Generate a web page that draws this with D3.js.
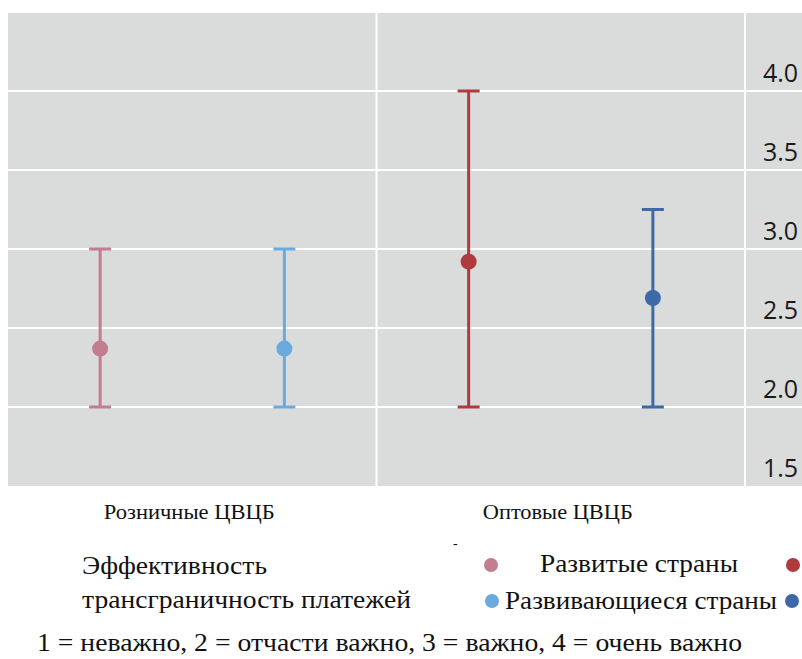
<!DOCTYPE html>
<html>
<head>
<meta charset="utf-8">
<script src="https://cdn.jsdelivr.net/npm/d3@7"></script>
<style>
  body { margin: 0; background: #fff; }
  svg { display: block; }
  .serif { font-family: "Liberation Serif", "Tinos", "Times New Roman", Times, "DejaVu Serif", "Noto Serif", serif; fill: #111; }
</style>
</head>
<body>
<div id="chart"></div>
<script>
// groups on the x axis and the two series inside each group
var groups = ["Розничные ЦВЦБ", "Оптовые ЦВЦБ"];
var series = ["Развитые страны", "Развивающиеся страны"];

// mean, low, high per group, per series
var means = [[2.37, 2.37], [2.92, 2.69]];
var lows  = [[2.0, 2.0], [2.0, 2.0]];
var highs = [[3.0, 3.0], [4.0, 3.25]];

var yTicks = [1.5, 2.0, 2.5, 3.0, 3.5, 4.0];
var colors = [["#c27d8f", "#6aaade"], ["#b03a3e", "#3d69a8"]];

var W = 802, H = 659;
var plot = { left: 8, right: 802, top: 13, bottom: 486, bandEnd: 745 };

var svg = d3.select("#chart").append("svg")
    .attr("width", W)
    .attr("height", H);

var y = d3.scaleLinear().domain([1.5, 4.5]).range([plot.bottom, plot.bottom - 6 * 79]);
var x = d3.scaleBand().domain(groups).range([plot.left, plot.bandEnd]);
var xs = d3.scaleBand().domain(series).range([0, x.bandwidth()]);

// grey plot background
svg.append("rect")
    .attr("x", plot.left)
    .attr("y", plot.top)
    .attr("width", plot.right - plot.left)
    .attr("height", plot.bottom - plot.top)
    .attr("fill", "#dadbdb");

// horizontal grid
svg.append("g")
    .selectAll("line")
    .data(yTicks.filter(function(d) { return d > 1.5; }))
    .enter().append("line")
    .attr("x1", plot.left)
    .attr("x2", plot.right)
    .attr("y1", function(d) { return y(d); })
    .attr("y2", function(d) { return y(d); })
    .attr("stroke", "#fff")
    .attr("stroke-width", 2);

// vertical separators between groups and before the axis labels
svg.append("g")
    .selectAll("line")
    .data(groups.slice(1).map(function(g) { return x(g); }).concat([plot.bandEnd]))
    .enter().append("line")
    .attr("x1", function(d) { return d; })
    .attr("x2", function(d) { return d; })
    .attr("y1", plot.top)
    .attr("y2", plot.bottom)
    .attr("stroke", "#fff")
    .attr("stroke-width", 2);

// y axis labels (on the right side, sitting above their gridlines)
var yAxis = d3.axisRight(y).tickValues(yTicks).tickFormat(d3.format(".1f")).tickSize(0);
var ax = svg.append("g")
    .attr("transform", "translate(" + (plot.bandEnd + 18) + ",0)")
    .call(yAxis);
ax.select(".domain").remove();
ax.selectAll("text")
    .attr("x", 0)
    .attr("dy", "-0.4em")
    .style("font-family", "'Open Sans', sans-serif")
    .style("font-size", "25px")
    .attr("fill", "#1a1a1a");

// error bars and points
groups.forEach(function(g, gi) {
    series.forEach(function(s, si) {
        var cx = x(g) + xs(s) + xs.bandwidth() / 2;
        var c = colors[gi][si];
        var grp = svg.append("g");
        grp.append("line")
            .attr("x1", cx).attr("x2", cx)
            .attr("y1", y(lows[gi][si])).attr("y2", y(highs[gi][si]))
            .attr("stroke", c).attr("stroke-width", 3);
        [lows[gi][si], highs[gi][si]].forEach(function(v) {
            grp.append("line")
                .attr("x1", cx - 11).attr("x2", cx + 11)
                .attr("y1", y(v)).attr("y2", y(v))
                .attr("stroke", c).attr("stroke-width", 3);
        });
        grp.append("circle")
            .attr("cx", cx).attr("cy", y(means[gi][si]))
            .attr("r", 8)
            .attr("fill", c);
    });
});

// text helper, squeezes text to a measured width
function txt(s, tx, ty, size, len) {
    var t = svg.append("text")
        .attr("class", "serif")
        .attr("x", tx).attr("y", ty)
        .style("font-size", size + "px")
        .text(s);
    if (len) t.attr("textLength", len).attr("lengthAdjust", "spacingAndGlyphs");
    return t;
}

// category labels under the plot, centred on each band
var catWidths = [171, 150];
groups.forEach(function(g, i) {
    txt(g, x(g) + x.bandwidth() / 2 - 3, 519, 22, catWidths[i])
        .attr("text-anchor", "middle");
});

// legend block
txt("Эффективность", 82, 574, 26, 185);
txt("трансграничность платежей", 82, 608, 26, 329);
txt("-", 453, 548, 14);

txt(series[0], 540, 572, 26, 198);
txt(series[1], 505, 609, 26, 272);

var legendDots = [
    [491, 565, colors[0][0]], [793, 565, colors[1][0]],
    [492, 601, colors[0][1]], [792, 601, colors[1][1]]
];
svg.append("g")
    .selectAll("circle")
    .data(legendDots)
    .enter().append("circle")
    .attr("cx", function(d) { return d[0]; })
    .attr("cy", function(d) { return d[1]; })
    .attr("r", 7)
    .attr("fill", function(d) { return d[2]; });

txt("1 = неважно, 2 = отчасти важно, 3 = важно, 4 = очень важно", 37, 651, 26, 705);
</script>
</body>
</html>
